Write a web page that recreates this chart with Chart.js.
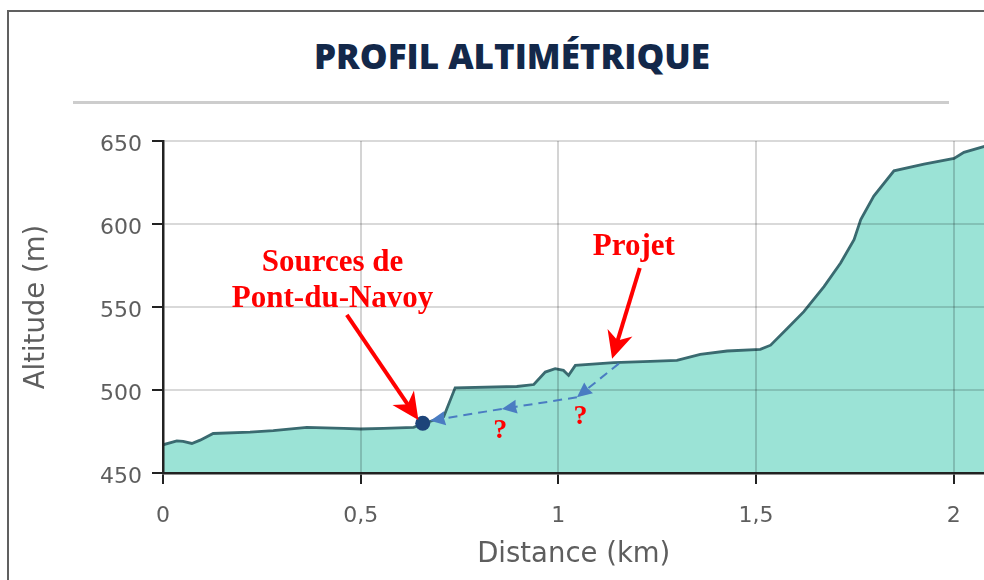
<!DOCTYPE html>
<html lang="fr">
<head>
<meta charset="utf-8">
<title>Profil altimétrique</title>
<script src="https://cdn.jsdelivr.net/npm/chart.js@4.4.1/dist/chart.umd.min.js"></script>
<style>
  html, body { margin: 0; padding: 0; background: #fff; overflow: hidden; }
  #wrap { position: relative; width: 984px; height: 580px; overflow: hidden; }
  #cadre { position: absolute; left: 7px; top: 10px; width: 1100px; height: 700px;
           border-left: 2px solid #606060; border-top: 2px solid #606060; }
  #titre { position: absolute; left: 0; top: 38px; width: 1024px; margin: 0; text-align: center;
           font: 800 35px/1 "Open Sans", sans-serif; color: #13284a; letter-spacing: 0; }
  #filet { position: absolute; left: 73px; top: 101px; width: 876px; height: 3px; background: #cdcdcd; }
  /* le canevas déborde à droite : la courbe est coupée par le cadre */
  #profil { position: absolute; left: 0; top: 0; }
</style>
</head>
<body>
<div id="wrap">
  <div id="cadre"></div>
  <h1 id="titre">PROFIL ALTIMÉTRIQUE</h1>
  <div id="filet"></div>
  <canvas id="profil" width="992" height="580"></canvas>
</div>
<script>
// Profil du terrain : distance (km) et altitude (m)
const distKm = [0, 0.035, 0.051, 0.073, 0.094, 0.127, 0.22, 0.279, 0.364, 0.457, 0.5, 0.558, 0.634, 0.657,
  0.71, 0.739, 0.895, 0.938, 0.967, 0.992, 1.013, 1.026, 1.043, 1.14, 1.233, 1.3, 1.359, 1.427, 1.511,
  1.537, 1.579, 1.621, 1.672, 1.714, 1.748, 1.765, 1.798, 1.849, 1.925, 2.001, 2.026, 2.078];
const altitudeM = [467, 469.4, 469, 467.8, 469.8, 473.8, 474.6, 475.5, 477.5, 476.9, 476.5, 476.9, 477.5, 479.5,
  483.9, 501.3, 502.1, 503.3, 510.8, 512.8, 511.8, 508.8, 514.8, 516.5, 517.3, 517.9, 521.5, 523.5, 524.5,
  527, 537.1, 547.2, 562.3, 576.5, 590.6, 602.7, 616.8, 632, 636.1, 639.5, 643.2, 646.8];

const xTicks = [0, 0.5, 1, 1.5, 2];
const yTicks = [450, 500, 550, 600, 650];

// Point des sources
const sourceKm = [0.657];
const sourceAlt = [480];

// Annotations (en coordonnées km / m)
const tracePointillee = [[1.153, 515.9], [1.047, 495.6], [0.857, 488.6], [0.676, 481.5]];
const flechesRouges = [
  { de: [0.465, 545.2], vers: [0.646, 481.9] },
  { de: [1.206, 573.5], vers: [1.136, 518.9] }
];
const textesRouges = [
  { texte: 'Sources de', pos: [0.429, 571.4], taille: 31 },
  { texte: 'Pont-du-Navoy', pos: [0.429, 550.2], taille: 31 },
  { texte: 'Projet', pos: [1.191, 581.5], taille: 31 },
  { texte: '?', pos: [0.853, 471.2], taille: 28 },
  { texte: '?', pos: [1.056, 479.7], taille: 28 }
];

const gris = '#5e5e5e';
const policeAxe = { family: 'DejaVu Sans', size: 22 };
const policeTitre = { family: 'DejaVu Sans', size: 27.5 };

function pointeFleche(ctx, x1, y1, x2, y2, long, larg, creux) {
  const a = Math.atan2(y2 - y1, x2 - x1);
  const c = Math.cos(a), s = Math.sin(a);
  ctx.beginPath();
  ctx.moveTo(x2, y2);
  ctx.lineTo(x2 - long * c + larg * s, y2 - long * s - larg * c);
  ctx.lineTo(x2 - (long - creux) * c, y2 - (long - creux) * s);
  ctx.lineTo(x2 - long * c - larg * s, y2 - long * s + larg * c);
  ctx.closePath();
  ctx.fill();
}

const annotations = {
  id: 'annotations',
  afterDraw(chart) {
    const { ctx, scales: { x, y } } = chart;
    const px = p => [x.getPixelForValue(p[0]), y.getPixelForValue(p[1])];
    ctx.save();

    // trajet en pointillés bleus
    ctx.strokeStyle = '#4a7cc2';
    ctx.fillStyle = '#4a7cc2';
    ctx.lineWidth = 2;
    for (let i = 0; i < tracePointillee.length - 1; i++) {
      const [x1, y1] = px(tracePointillee[i]);
      const [x2, y2] = px(tracePointillee[i + 1]);
      const a = Math.atan2(y2 - y1, x2 - x1);
      ctx.setLineDash([9, 6]);
      ctx.beginPath();
      ctx.moveTo(x1, y1);
      ctx.lineTo(x2 - 10 * Math.cos(a), y2 - 10 * Math.sin(a));
      ctx.stroke();
      ctx.setLineDash([]);
      pointeFleche(ctx, x1, y1, x2, y2, 15, 7, 1);
    }

    // flèches rouges
    ctx.strokeStyle = '#ff0000';
    ctx.fillStyle = '#ff0000';
    ctx.lineWidth = 4;
    flechesRouges.forEach(f => {
      const [x1, y1] = px(f.de);
      const [x2, y2] = px(f.vers);
      const a = Math.atan2(y2 - y1, x2 - x1);
      ctx.beginPath();
      ctx.moveTo(x1, y1);
      ctx.lineTo(x2 - 16 * Math.cos(a), y2 - 16 * Math.sin(a));
      ctx.stroke();
      pointeFleche(ctx, x1, y1, x2, y2, 27, 13, 8);
    });

    // textes
    ctx.textAlign = 'center';
    ctx.textBaseline = 'alphabetic';
    textesRouges.forEach(t => {
      const [tx, ty] = px(t.pos);
      ctx.font = 'bold ' + t.taille + 'px "Liberation Serif", "Times New Roman", serif';
      ctx.fillText(t.texte, tx, ty);
    });
    ctx.restore();
  }
};

new Chart(document.getElementById('profil'), {
  type: 'line',
  data: {
    datasets: [
      {
        data: sourceKm.map((d, i) => ({ x: d, y: sourceAlt[i] })),
        showLine: false,
        pointRadius: 7.5,
        pointBackgroundColor: '#1d4479',
        pointBorderWidth: 0,
        order: 0
      },
      {
        data: distKm.map((d, i) => ({ x: d, y: altitudeM[i] })),
        borderColor: '#3a6a70',
        borderWidth: 2.8,
        backgroundColor: '#9be3d6',
        fill: 'start',
        pointRadius: 0,
        tension: 0,
        order: 1
      }
    ]
  },
  options: {
    responsive: false,
    animation: false,
    layout: { padding: { top: 141, left: 0, right: 0, bottom: 0 } },
    plugins: { legend: { display: false }, tooltip: { enabled: false } },
    scales: {
      x: {
        type: 'linear',
        min: 0,
        max: 2.078,
        afterBuildTicks: s => { s.ticks = xTicks.map(v => ({ value: v })); },
        afterFit: s => { s.height = 107; },
        ticks: {
          callback: v => String(v).replace('.', ','),
          font: policeAxe,
          color: gris,
          padding: 19,
          maxRotation: 0
        },
        grid: { color: 'rgba(0,0,0,0.17)', lineWidth: 2, z: 1, tickColor: '#222', tickLength: 11, tickWidth: 2 },
        border: { color: '#222', width: 2.5, z: 2 },
        title: { display: true, text: 'Distance (km)', font: policeTitre, color: gris, padding: { top: 0, bottom: 9 } }
      },
      y: {
        min: 450,
        max: 650,
        afterBuildTicks: s => { s.ticks = yTicks.map(v => ({ value: v })); },
        afterFit: s => { s.width = 163; },
        ticks: { font: policeAxe, color: gris, padding: 10, labelOffset: 4 },
        grid: { color: 'rgba(0,0,0,0.15)', lineWidth: 2, z: 1, tickColor: '#222', tickLength: 11, tickWidth: 2 },
        border: { color: '#222', width: 2.5, z: 2 },
        title: { display: true, text: 'Altitude (m)', font: policeTitre, color: gris, padding: { top: 20, bottom: 0 } }
      }
    }
  },
  plugins: [annotations]
});
</script>
</body>
</html>
